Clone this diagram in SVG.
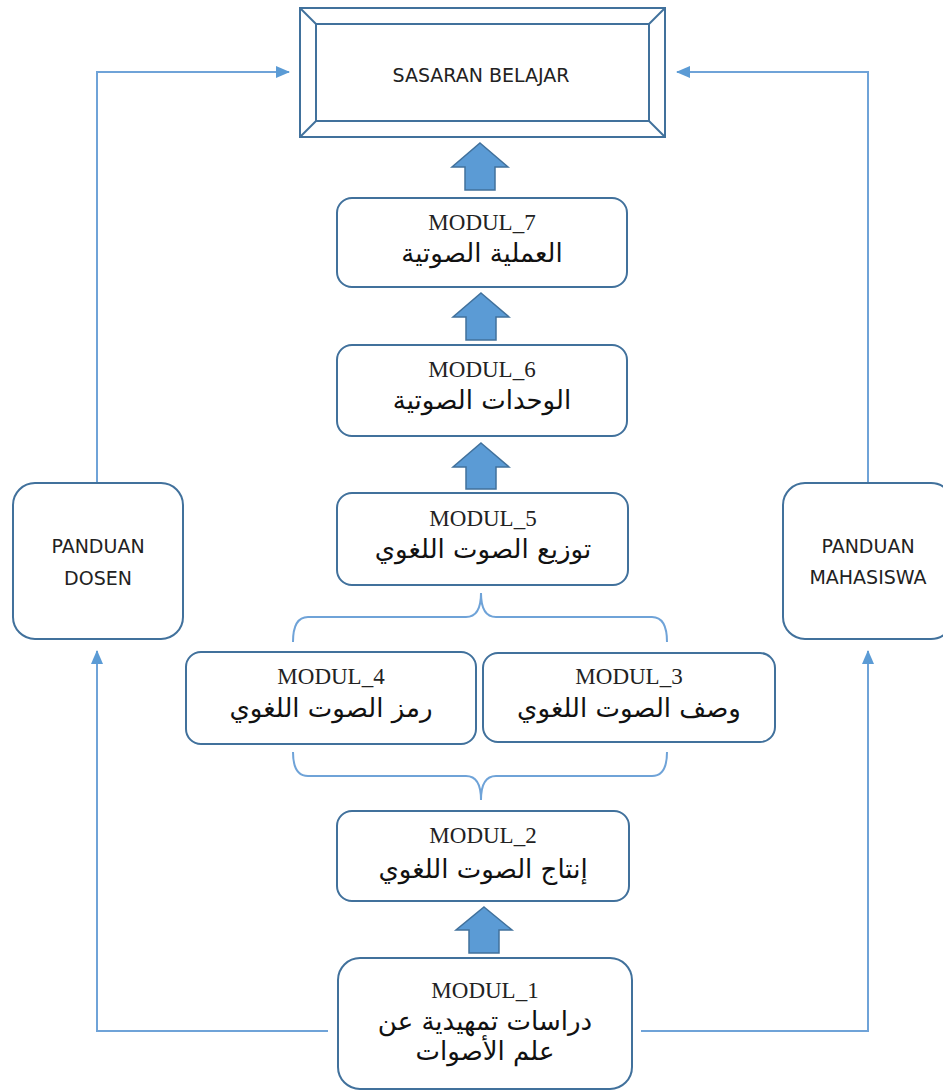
<svg xmlns="http://www.w3.org/2000/svg" width="943" height="1091" viewBox="0 0 943 1091">
<style>
.box{fill:#fff;stroke:#41719c;stroke-width:2}
.conn{fill:none;stroke:#6fa3d8;stroke-width:2}
.blk{fill:#5b9bd5;stroke:#41719c;stroke-width:1.5}
.mod{font-family:"Liberation Serif",serif;font-size:23px;fill:#222;text-anchor:middle}
.ar{font-family:"DejaVu Sans",sans-serif;font-size:26px;fill:#111;text-anchor:middle}
.lab{font-family:"DejaVu Sans",sans-serif;font-size:19px;fill:#222;text-anchor:middle}
</style>
<defs>
<marker id="ah" viewBox="0 0 14 12" refX="13" refY="6" markerWidth="14" markerHeight="12" markerUnits="userSpaceOnUse" orient="auto">
<path d="M0,0 L14,6 L0,12 Z" fill="#5b9bd5"/>
</marker>
</defs>
<rect width="943" height="1091" fill="#fff"/>
<g id="connectors">
<polyline class="conn" points="328,1031 97,1031 97,651" marker-end="url(#ah)"/>
<polyline class="conn" points="97,483 97,72 289,72" marker-end="url(#ah)"/>
<polyline class="conn" points="641,1031 868,1031 868,651" marker-end="url(#ah)"/>
<polyline class="conn" points="868,483 868,72 677,72" marker-end="url(#ah)"/>
<path class="conn" d="M293,642 Q293,617 308,617 L466,617 Q481,617 481,593 Q481,617 496,617 L652,617 Q667,617 667,642"/>
<path class="conn" d="M293,752 Q293,776 308,776 L466,776 Q481,776 481,800 Q481,776 496,776 L652,776 Q667,776 667,752"/>
<path class="blk" d="M480,143 L508,167 L495,167 L495,190 L465,190 L465,167 L452,167 Z"/>
<path class="blk" d="M481,293 L509,317 L496,317 L496,340 L466,340 L466,317 L453,317 Z"/>
<path class="blk" d="M481,443 L509,467 L496,467 L496,489 L466,489 L466,467 L453,467 Z"/>
<path class="blk" d="M484,907 L512,930 L499,930 L499,953 L469,953 L469,930 L456,930 Z"/>
</g>
<g id="sasaran">
<rect class="box" x="300" y="8" width="365" height="129"/>
<rect class="box" x="316" y="24" width="333" height="97"/>
<line class="box" x1="300" y1="8" x2="316" y2="24"/>
<line class="box" x1="665" y1="8" x2="649" y2="24"/>
<line class="box" x1="300" y1="137" x2="316" y2="121"/>
<line class="box" x1="665" y1="137" x2="649" y2="121"/>
<text class="lab" x="481" y="82">SASARAN BELAJAR</text>
</g>
<g id="modul7">
<rect class="box" x="337" y="198" width="290" height="89" rx="15"/>
<text class="mod" x="482" y="230">MODUL_7</text>
<text class="ar" x="482" y="262">العملية الصوتية</text>
</g>
<g id="modul6">
<rect class="box" x="337" y="345" width="290" height="91" rx="15"/>
<text class="mod" x="482" y="377">MODUL_6</text>
<text class="ar" x="482" y="409">الوحدات الصوتية</text>
</g>
<g id="modul5">
<rect class="box" x="337" y="493" width="291" height="92" rx="15"/>
<text class="mod" x="483" y="526">MODUL_5</text>
<text class="ar" x="483" y="558">توزيع الصوت اللغوي</text>
</g>
<g id="modul4">
<rect class="box" x="186" y="652" width="290" height="92" rx="15"/>
<text class="mod" x="331" y="684">MODUL_4</text>
<text class="ar" x="331" y="717">رمز الصوت اللغوي</text>
</g>
<g id="modul3">
<rect class="box" x="483" y="653" width="292" height="89" rx="15"/>
<text class="mod" x="629" y="684">MODUL_3</text>
<text class="ar" x="629" y="717">وصف الصوت اللغوي</text>
</g>
<g id="modul2">
<rect class="box" x="337" y="811" width="292" height="90" rx="15"/>
<text class="mod" x="483" y="843">MODUL_2</text>
<text class="ar" x="483" y="878">إنتاج الصوت اللغوي</text>
</g>
<g id="modul1">
<rect class="box" x="338" y="958" width="294" height="131" rx="22"/>
<text class="mod" x="485" y="998">MODUL_1</text>
<text class="ar" x="485" y="1030">دراسات تمهيدية عن</text>
<text class="ar" x="485" y="1060">علم الأصوات</text>
</g>
<g id="dosen">
<rect class="box" x="13" y="483" width="170" height="156" rx="22"/>
<text class="lab" x="98" y="553">PANDUAN</text>
<text class="lab" x="98" y="585">DOSEN</text>
</g>
<g id="mahasiswa">
<rect class="box" x="783" y="483" width="170" height="156" rx="22"/>
<text class="lab" x="868" y="553">PANDUAN</text>
<text class="lab" x="868" y="584">MAHASISWA</text>
</g>
</svg>
